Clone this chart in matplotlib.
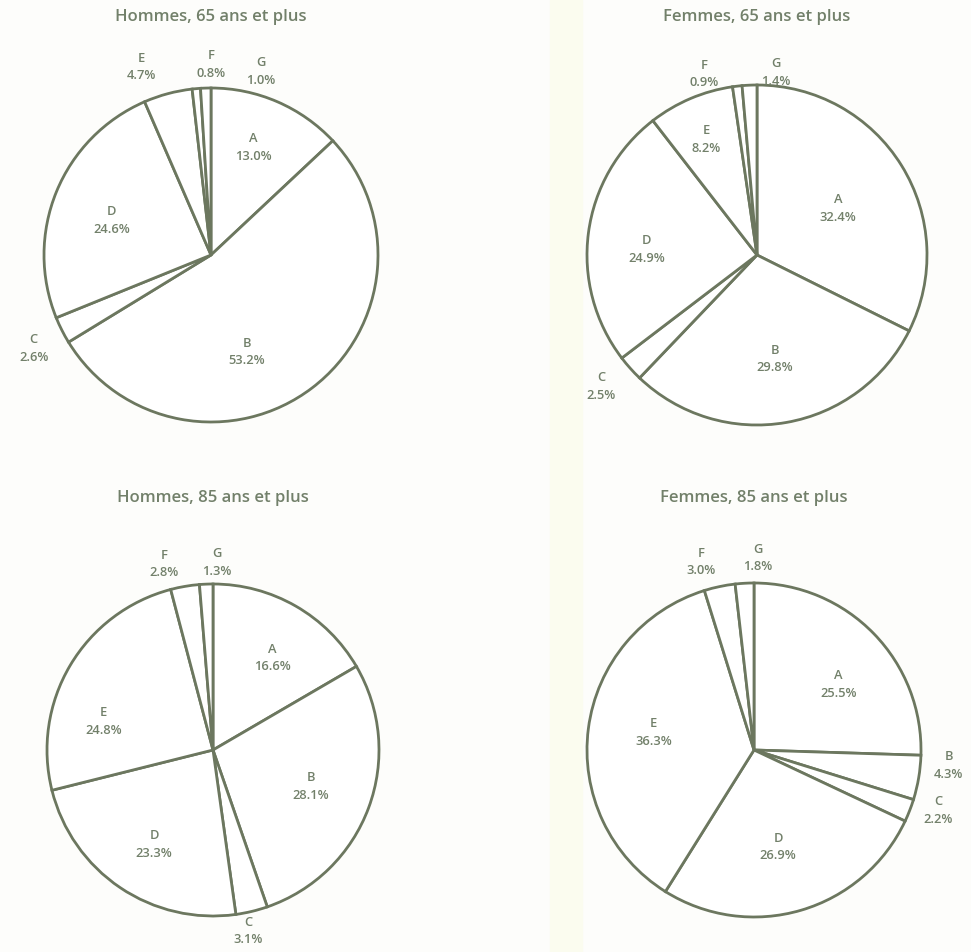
import matplotlib
matplotlib.use("Agg")
import matplotlib.pyplot as plt
import numpy as np

plt.rcParams['font.family'] = ['Open Sans', 'DejaVu Sans']

# data
categories = ['A', 'B', 'C', 'D', 'E', 'F', 'G']
titles = ['Hommes, 65 ans et plus', 'Femmes, 65 ans et plus',
          'Hommes, 85 ans et plus', 'Femmes, 85 ans et plus']
hommes_65 = [13.0, 53.2, 2.6, 24.6, 4.7, 0.8, 1.0]
femmes_65 = [32.4, 29.8, 2.5, 24.9, 8.2, 0.9, 1.4]
hommes_85 = [16.6, 28.1, 3.1, 23.3, 24.8, 2.8, 1.3]
femmes_85 = [25.5, 4.3, 2.2, 26.9, 36.3, 3.0, 1.8]
series = [hommes_65, femmes_65, hommes_85, femmes_85]

# layout: pie centre (px from top-left) and radius in px
centres = [(211, 255), (757, 255), (213, 750), (754, 750)]
radii = [167, 170, 166, 167]
# label distance (in radii) and angular nudge (deg) from wedge middle
label_dist = [
    [0.69, 0.62, 1.20, 0.63, 1.20, 1.14, 1.14],
    [0.55, 0.62, 1.20, 0.65, 0.74, 1.11, 1.08],
    [0.66, 0.63, 1.11, 0.67, 0.68, 1.16, 1.13],
    [0.64, 1.17, 1.16, 0.60, 0.61, 1.17, 1.15],
]
label_nudge = [
    [2, -17, 1, 3, 5.5, -5, -17],
    [-2, 0, -1.6, 4.7, 0.6, 9.6, -8.4],
    [-3, 0, -2.5, 2, 16, 5, -3.5],
    [-6.4, 5, 3, -2.4, -2.6, 3.8, -4.4],
]

W, H = 971, 952
line_col = '#6c775f'
text_col = '#72806a'
bg = '#fdfdfb'

fig = plt.figure(figsize=(W / 100, H / 100), dpi=100, facecolor=bg)

# faint yellow strip from the scan fold
fig.patches.append(plt.Rectangle((550 / W, 0), 32 / W, 1, transform=fig.transFigure,
                                 color='#fbfcef', zorder=0))

box = 420
for i, vals in enumerate(series):
    cx, cy = centres[i]
    r = radii[i]
    ax = fig.add_axes([(cx - box / 2) / W, 1 - (cy + box / 2) / H, box / W, box / H])
    ax.set_facecolor('none')
    lim = box / 2 / r
    wedges, _ = ax.pie(vals, startangle=90, counterclock=False, radius=1,
                       colors=['white'] * len(vals),
                       wedgeprops=dict(edgecolor=line_col, linewidth=2.0))
    for j, w in enumerate(wedges):
        mid = (w.theta1 + w.theta2) / 2 + label_nudge[i][j]
        d = label_dist[i][j]
        ax.text(d * np.cos(np.radians(mid)), d * np.sin(np.radians(mid)),
                f"{categories[j]}\n{vals[j]:.1f}%", ha='center', va='center',
                fontsize=9.3, color=text_col, fontweight='semibold', linespacing=1.45)
    ax.set_xlim(-lim, lim)
    ax.set_ylim(-lim, lim)
    ax.set_aspect('equal')
    ax.axis('off')
    fig.text(cx / W, 1 - (17 if i < 2 else 498) / H, titles[i], ha='center', va='center',
             fontsize=12, color=text_col, fontweight='semibold')

fig.savefig('out.png', dpi=100, facecolor=bg)
